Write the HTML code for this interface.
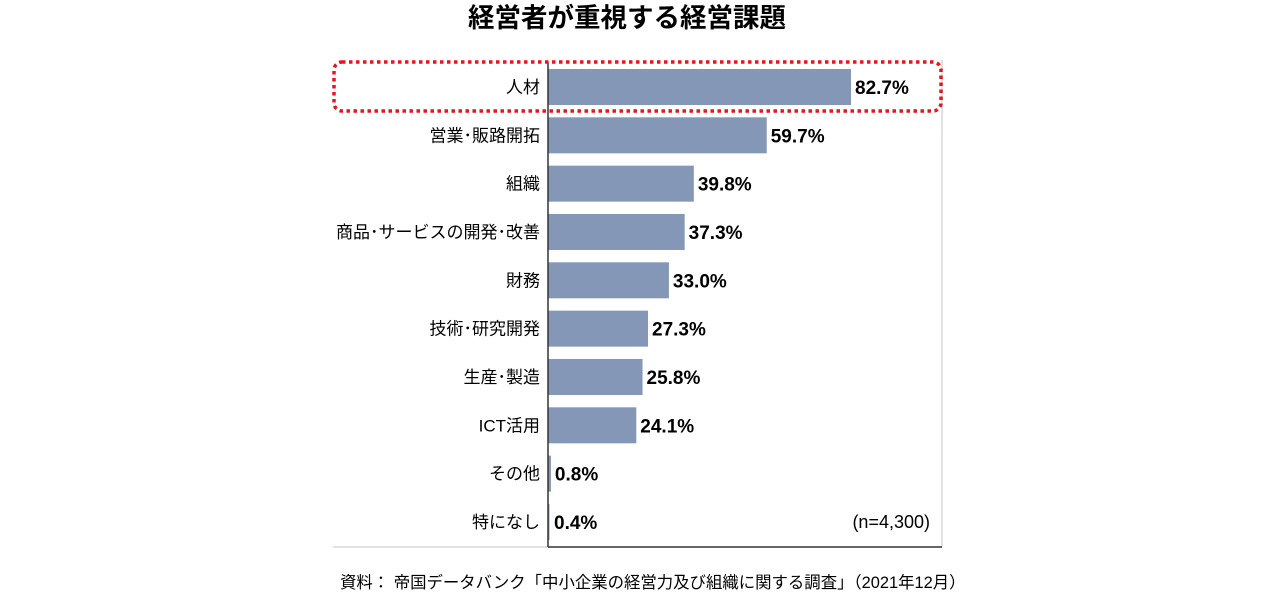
<!DOCTYPE html>
<html><head><meta charset="utf-8">
<style>
html,body{margin:0;padding:0;background:#fff;}
svg{display:block;font-family:"Liberation Sans","Noto Sans CJK JP",sans-serif;}
</style></head>
<body>
<svg id="chart" width="1280" height="600" viewBox="0 0 1280 600">
<text x="627" y="27" text-anchor="middle" font-size="26.5" font-weight="bold" fill="#000">経営者が重視する経営課題</text>
<line x1="942" y1="60" x2="942" y2="547" stroke="#d9d9d9" stroke-width="1.5"/>
<line x1="333" y1="547" x2="548" y2="547" stroke="#d9d9d9" stroke-width="1.5"/>
<line x1="548" y1="547" x2="942" y2="547" stroke="#333" stroke-width="1.5"/>
<g id="bars"></g>
<line x1="548" y1="62" x2="548" y2="547" stroke="#333" stroke-width="1.5"/>
<rect x="334" y="62" width="607" height="49" rx="8" fill="none" stroke="#e8141b" stroke-width="3.5" stroke-dasharray="3.5,3.5"/>
<text x="930" y="528" text-anchor="end" font-size="18" fill="#000">(n=4,300)</text>
<text x="340" y="588" font-size="16.4" fill="#000">資料： 帝国データバンク「中小企業の経営力及び組織に関する調査」（2021年12月）</text>
</svg>
<script>
const categories = ["人材","営業･販路開拓","組織","商品･サービスの開発･改善","財務","技術･研究開発","生産･製造","ICT活用","その他","特になし"];
const values = [82.7,59.7,39.8,37.3,33.0,27.3,25.8,24.1,0.8,0.4];
const labels = ["82.7%","59.7%","39.8%","37.3%","33.0%","27.3%","25.8%","24.1%","0.8%","0.4%"];
const x0 = 548, pxPer = 3.664, y0 = 87, step = 48.33, bh = 36;
const xs = v => x0 + v * pxPer;
const ys = i => y0 + i * step;
const ns = "http://www.w3.org/2000/svg";
const g = document.getElementById("bars");
categories.forEach((c, i) => {
  const cy = ys(i);
  const r = document.createElementNS(ns, "rect");
  r.setAttribute("x", x0);
  r.setAttribute("y", cy - bh / 2);
  r.setAttribute("width", xs(values[i]) - x0);
  r.setAttribute("height", bh);
  r.setAttribute("fill", "#8497b7");
  
  
  g.appendChild(r);
  const t = document.createElementNS(ns, "text");
  t.setAttribute("x", 540);
  t.setAttribute("y", cy + 6);
  t.setAttribute("text-anchor", "end");
  t.setAttribute("font-size", "17");
  t.textContent = c;
  
  
  g.appendChild(t);
  const v = document.createElementNS(ns, "text");
  v.setAttribute("x", Math.max(xs(values[i]), x0 + 2) + 4);
  v.setAttribute("y", cy + 7);
  v.setAttribute("font-size", "19");
  v.setAttribute("font-weight", "bold");
  v.textContent = labels[i];
  
  
  g.appendChild(v);
});
</script>
</body></html>
